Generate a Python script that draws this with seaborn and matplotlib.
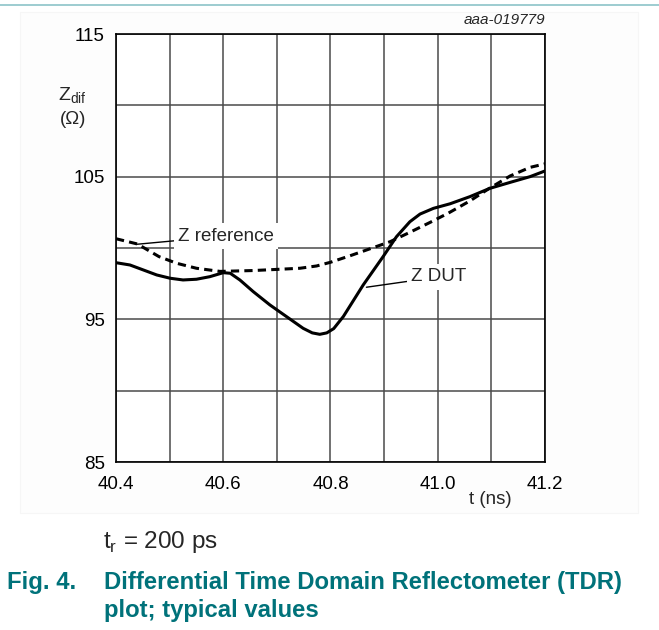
import numpy as np
import pandas as pd
import matplotlib
matplotlib.use("Agg")
import matplotlib.pyplot as plt
import seaborn as sns
from matplotlib.lines import Line2D
from matplotlib.patches import Rectangle

# TDR readings
t_ref = [40.400, 40.440, 40.480, 40.513, 40.550, 40.594, 40.656, 40.700, 40.743,
         40.774, 40.800, 40.836, 40.874, 40.911, 40.948, 40.986, 41.020, 41.060,
         41.097, 41.135, 41.172, 41.200]
z_ref = [100.65, 100.28, 99.40, 98.93, 98.58, 98.36, 98.42, 98.50, 98.58,
         98.74, 99.00, 99.45, 99.95, 100.44, 101.10, 101.80, 102.45, 103.30,
         104.20, 105.05, 105.65, 105.90]

t_dut = [40.400, 40.426, 40.451, 40.476, 40.501, 40.525, 40.550, 40.575, 40.600,
         40.613, 40.631, 40.656, 40.687, 40.718, 40.749, 40.766, 40.780, 40.793,
         40.806, 40.824, 40.861, 40.898, 40.923, 40.948, 40.967, 40.992, 41.023,
         41.060, 41.097, 41.135, 41.172, 41.200]
z_dut = [98.97, 98.81, 98.46, 98.11, 97.88, 97.76, 97.81, 97.99, 98.27,
         98.23, 97.76, 96.94, 96.01, 95.19, 94.37, 94.05, 93.95, 94.05,
         94.35, 95.20, 97.41, 99.39, 100.79, 101.84, 102.38, 102.78, 103.10,
         103.60, 104.18, 104.60, 105.00, 105.40]

ref_df = pd.DataFrame({"t": t_ref, "z": z_ref})
dut_df = pd.DataFrame({"t": t_dut, "z": z_dut})

sns.set_style("white")
plt.rcParams["font.family"] = ["Liberation Sans", "DejaVu Sans"]

W, H = 659, 630
fig = plt.figure(figsize=(W / 100, H / 100), dpi=100)


def fx(x):
    return x / W


def fy(y):
    return 1 - y / H


# faint panel behind the chart
fig.add_artist(Rectangle((fx(20), fy(513)), fx(638) - fx(20), fy(12) - fy(513),
                         transform=fig.transFigure, fc="#fdfdfd", ec="#f6f6f6",
                         lw=0.8, zorder=0))

ax = fig.add_axes([fx(116), fy(462), fx(545) - fx(116), fy(34) - fy(462)])
ax.set_facecolor("white")

sns.lineplot(data=ref_df, x="t", y="z", ax=ax, color="black", lw=2.2,
             linestyle=(0, (2.7, 1.7)), sort=False, zorder=3)
sns.lineplot(data=dut_df, x="t", y="z", ax=ax, color="black", lw=2.2,
             sort=False, zorder=3)

ax.set_xlim(40.4, 41.2)
ax.set_ylim(85, 115)
ax.set_xticks(np.arange(40.4, 41.21, 0.1), minor=True)
ax.set_xticks([40.4, 40.6, 40.8, 41.0, 41.2])
ax.set_xticklabels(["40.4", "40.6", "40.8", "41.0", "41.2"])
ax.set_yticks([90, 100, 110], minor=True)
ax.set_yticks([85, 95, 105, 115])
ax.grid(True, which="both", color="#4a4a4a", lw=1.1)
ax.tick_params(which="both", length=0, labelsize=13.5, colors="black")
ax.tick_params(axis="x", pad=10)
ax.tick_params(axis="y", pad=8)
ax.set_xlabel("")
ax.set_ylabel("")
for s in ax.spines.values():
    s.set_color("black")
    s.set_linewidth(1.2)

# leader-line labels
ax.annotate("Z reference", xy=(40.4386, 100.26), xytext=(40.5156, 100.84),
            fontsize=13.5, va="center", ha="left",
            bbox=dict(fc="white", ec="none", pad=3),
            arrowprops=dict(arrowstyle="-", color="black", lw=1.0,
                            shrinkA=0, shrinkB=0), zorder=5)
ax.annotate("Z DUT", xy=(40.867, 97.25), xytext=(40.95, 97.97),
            fontsize=13.5, va="center", ha="left",
            bbox=dict(fc="white", ec="none", pad=3),
            arrowprops=dict(arrowstyle="-", color="black", lw=1.0,
                            shrinkA=0, shrinkB=0), zorder=5)

fig.text(fx(58), fy(96), r"Z$_{\mathregular{dif}}$", fontsize=14, va="center", ha="left")
fig.text(fx(60), fy(119), "(\u03a9)", fontsize=13.5, va="center", ha="left")
fig.text(fx(490), fy(500), "t (ns)", fontsize=13.5, va="center", ha="center")
fig.text(fx(545), fy(20), "aaa-019779", fontsize=11, style="italic",
         va="center", ha="right")

fig.text(fx(103), fy(542), r"t$_{\mathregular{r}}$ = 200 ps", fontsize=17.5,
         va="center", ha="left")

teal = "#00727a"
fig.text(fx(7), fy(583), "Fig. 4.", fontsize=17.2, weight="bold", color=teal,
         va="center", ha="left")
fig.text(fx(104), fy(583), "Differential Time Domain Reflectometer (TDR)",
         fontsize=17.2, weight="bold", color=teal, va="center", ha="left")
fig.text(fx(104), fy(610), "plot; typical values",
         fontsize=17.2, weight="bold", color=teal, va="center", ha="left")

fig.add_artist(Line2D([0, 1], [fy(5), fy(5)], color="#8cc4c8", lw=1.2))

fig.savefig("out.png", dpi=100)
